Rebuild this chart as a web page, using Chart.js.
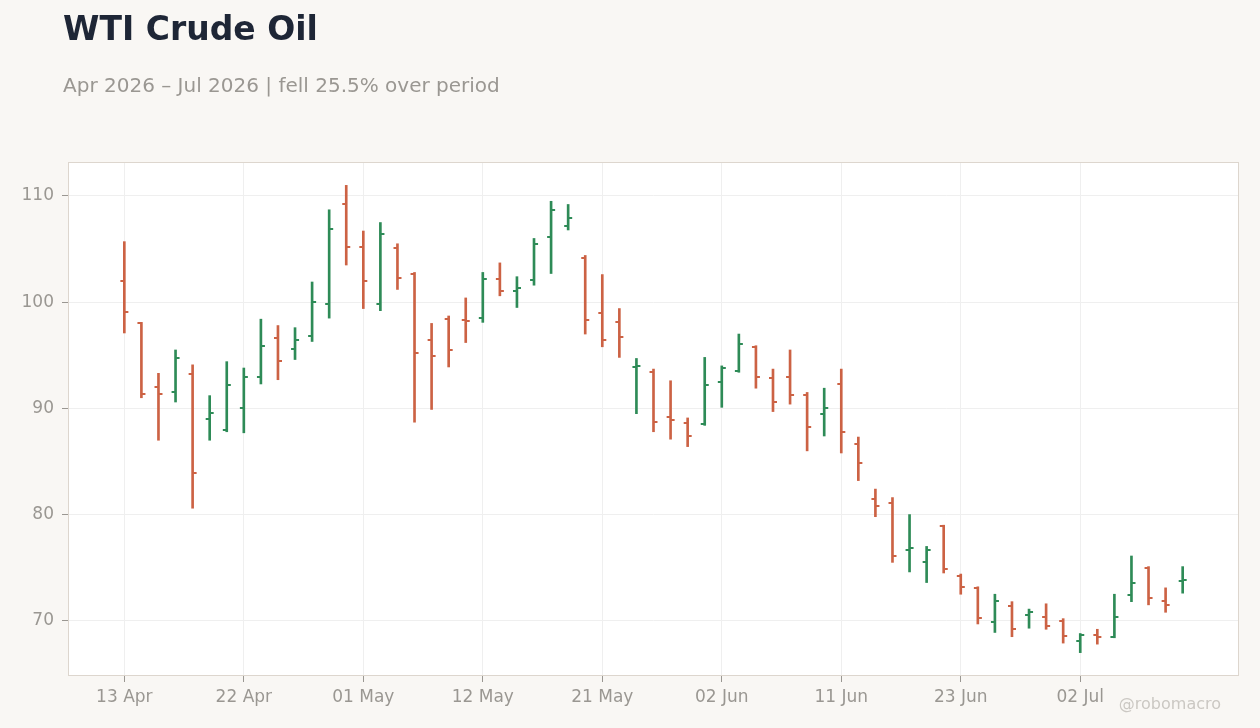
<!DOCTYPE html>
<html><head><meta charset="utf-8">
<script src="https://cdn.jsdelivr.net/npm/chart.js@4.4.1/dist/chart.umd.min.js"></script>
<style>
html,body{margin:0;padding:0;background:#f9f7f4;width:1260px;height:728px;overflow:hidden;font-family:"DejaVu Sans",sans-serif}
#wrap{position:relative;width:1260px;height:728px}
canvas{position:absolute;left:0;top:0}
.t{position:absolute;white-space:nowrap}
#title{left:63px;top:12px;font-size:33px;line-height:33px;font-weight:bold;color:#1e2636}
#sub{left:63px;top:75px;font-size:20px;line-height:20px;color:#9a9792}
#wm{right:39px;top:696px;font-size:16px;line-height:16px;color:#cbc8c3}
</style></head><body>
<div id="wrap"><canvas id="c" width="1260" height="728"></canvas>
<div class="t" id="title">WTI Crude Oil</div>
<div class="t" id="sub">Apr 2026 – Jul 2026 | fell 25.5% over period</div>
<div class="t" id="wm">@robomacro</div></div>
<script>
const dates = ["13 Apr","14 Apr","15 Apr","16 Apr","17 Apr","20 Apr","21 Apr","22 Apr","23 Apr","24 Apr",
"27 Apr","28 Apr","29 Apr","30 Apr","01 May","04 May","05 May","06 May","07 May","08 May",
"11 May","12 May","13 May","14 May","15 May","18 May","19 May","20 May","21 May","22 May",
"26 May","27 May","28 May","29 May","01 Jun","02 Jun","03 Jun","04 Jun","05 Jun",
"08 Jun","09 Jun","10 Jun","11 Jun","12 Jun","15 Jun","16 Jun","17 Jun","18 Jun",
"22 Jun","23 Jun","24 Jun","25 Jun","26 Jun","29 Jun","30 Jun","01 Jul","02 Jul",
"06 Jul","07 Jul","08 Jul","09 Jul","10 Jul","13 Jul"];
const openP = [102.0,98.0,92.0,91.5,93.2,89.0,88.0,90.0,93.0,96.6,95.6,
96.8,99.8,109.2,105.2,99.8,105.1,102.7,96.4,98.4,98.3,98.5,
102.2,101.1,102.1,106.1,107.2,104.2,99.0,98.1,93.9,93.4,89.2,
88.6,88.5,92.5,93.5,95.8,92.9,93.0,91.3,89.5,92.3,86.6,
81.5,81.1,76.7,75.5,78.9,74.2,73.1,69.9,71.4,70.5,
70.4,70.0,68.1,68.7,68.5,72.4,75.0,71.9,73.7];
const highP = [105.7,98.1,93.3,95.5,94.1,91.2,94.4,93.8,98.4,97.8,97.6,
101.9,108.7,111.0,106.7,107.5,105.5,102.8,98.0,98.7,100.4,102.8,
103.7,102.4,106.0,109.5,109.2,104.4,102.6,99.4,94.7,93.7,92.6,
89.1,94.8,94.0,97.0,95.9,93.7,95.5,91.5,91.9,93.7,87.3,
82.4,81.6,80.0,77.0,79.0,74.4,73.2,72.5,71.8,71.1,
71.6,70.2,68.8,69.2,72.5,76.1,75.1,73.1,75.1];
const lowP = [97.1,91.0,87.0,90.6,80.6,87.0,87.8,87.7,92.3,92.7,94.6,
96.3,98.5,103.5,99.4,99.2,101.2,88.7,89.9,93.9,96.2,98.1,
100.6,99.5,101.6,102.7,106.8,97.0,95.8,94.8,89.5,87.8,87.1,
86.4,88.4,90.1,93.4,91.9,89.7,90.4,86.0,87.4,85.8,83.2,
79.8,75.5,74.6,73.6,74.5,72.5,69.7,68.9,68.5,69.3,
69.2,67.9,67.0,67.8,68.4,71.8,71.5,70.8,72.6];
const closeP = [99.1,91.4,91.4,94.7,83.9,89.6,92.2,93.0,95.9,94.5,96.4,
100.0,106.9,105.2,102.0,106.4,102.3,95.2,94.9,95.5,98.2,102.2,
101.1,101.3,105.5,108.7,107.9,98.3,96.4,96.7,94.0,88.7,88.9,
87.4,92.2,93.8,96.1,93.0,90.6,91.3,88.2,90.0,87.8,84.9,
80.8,76.1,76.9,76.7,74.9,73.2,70.3,71.9,69.2,70.8,
69.5,68.6,68.7,68.5,70.4,73.6,72.1,71.5,73.8];
const xTickIdx = [0,7,14,21,28,35,42,49,56];
const yTicks = [70,80,90,100,110];

const UP = '#2e8b57', DOWN = '#cc6244';
const TXT = '#9a9792', FONT = '"DejaVu Sans", sans-serif';
function tickImg(color, side){
  const c = document.createElement('canvas'); c.width = 10; c.height = 2;
  const g = c.getContext('2d'); g.fillStyle = color;
  if (side === 'L') g.fillRect(1,0,4,2); else g.fillRect(5,0,4,2);
  return c;
}
const imgs = {oU:tickImg(UP,'L'), oD:tickImg(DOWN,'L'), cU:tickImg(UP,'R'), cD:tickImg(DOWN,'R')};
const isUp = i => closeP[i] >= openP[i];
const barColors = dates.map((d,i) => isUp(i) ? UP : DOWN);

const plotBox = {
  id:'plotBox',
  beforeDraw(chart){ const {ctx, chartArea:a} = chart; ctx.save(); ctx.fillStyle='#ffffff';
    ctx.fillRect(a.left,a.top,a.right-a.left,a.bottom-a.top); ctx.restore(); },
  beforeDatasetsDraw(chart){ const {ctx, chartArea:a} = chart; ctx.save(); ctx.strokeStyle='#ddd6ce'; ctx.lineWidth=1;
    ctx.strokeRect(a.left+0.5,a.top+0.5,a.right-a.left-1,a.bottom-a.top-1); ctx.restore(); }
};

new Chart(document.getElementById('c'), {
  type:'bar',
  data:{ datasets:[
    { type:'bar', data: dates.map((d,i)=>({x:i, y:[lowP[i], highP[i]]})), backgroundColor: barColors,
      barThickness:2, borderWidth:0, grouped:false, order:2 },
    { type:'scatter', data: openP.map((v,i)=>({x:i, y:v})), showLine:false, pointRadius:3,
      pointStyle: openP.map((v,i)=> isUp(i) ? imgs.oU : imgs.oD), order:1 },
    { type:'scatter', data: closeP.map((v,i)=>({x:i, y:v})), showLine:false, pointRadius:3,
      pointStyle: closeP.map((v,i)=> isUp(i) ? imgs.cU : imgs.cD), order:1 }
  ]},
  options:{
    responsive:false, animation:false, events:[],
    layout:{padding:{top:162, right:21, bottom:12, left:0}},
    plugins:{legend:{display:false}, tooltip:{enabled:false}},
    scales:{
      x:{ type:'linear', min:-3.3, max:65.3, offset:false,
        afterBuildTicks: s => { s.ticks = xTickIdx.map(v=>({value:v})); },
        afterFit: s => { s.height = 40; },
        ticks:{ callback: v => dates[v], color:TXT, font:{family:FONT, size:17}, padding:5, maxRotation:0, autoSkip:false },
        grid:{ offset:false, color:'#efefef', tickColor:'#9a9792', tickLength:6, lineWidth:1 },
        border:{display:false} },
      y:{ min:64.8, max:113.2,
        afterBuildTicks: s => { s.ticks = yTicks.map(v=>({value:v})); },
        afterFit: s => { s.width = 68; },
        ticks:{ callback: v => String(v), color:TXT, font:{family:FONT, size:17}, padding:8 },
        grid:{ color:'#efefef', tickColor:'#9a9792', tickLength:6, lineWidth:1 },
        border:{display:false} }
    }
  },
  plugins:[plotBox]
});
</script></body></html>
